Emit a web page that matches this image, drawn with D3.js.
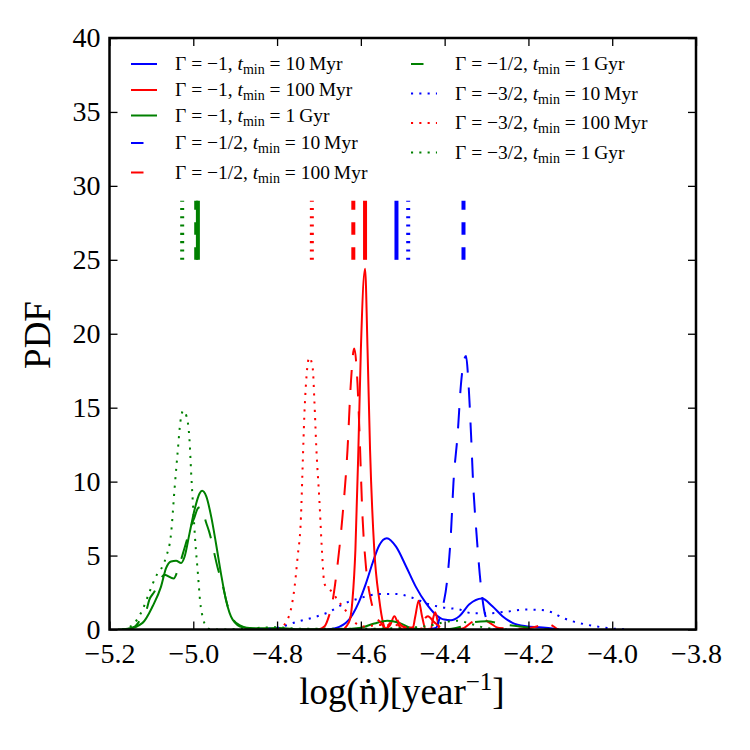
<!DOCTYPE html>
<html>
<head>
<meta charset="utf-8">
<title>PDF of log(ndot)</title>
<script src="https://cdn.jsdelivr.net/npm/d3@7"></script>
<style>
  body { margin: 0; background: #fff; }
  text { font-family: "Liberation Serif", "DejaVu Serif", serif; fill: #000; }
</style>
</head>
<body>
<script>

// ---- data ----
var xTicks = [-5.2, -5.0, -4.8, -4.6, -4.4, -4.2, -4.0, -3.8];
var yTicks = [0, 5, 10, 15, 20, 25, 30, 35, 40];

// Gamma = -1
var blueSolidX = [-4.68, -4.6515, -4.6355, -4.620, -4.604, -4.588, -4.572, -4.556, -4.538, -4.516, -4.492, -4.469, -4.445, -4.421, -4.401, -4.385, -4.365, -4.341, -4.311, -4.286, -4.262, -4.238, -4.206, -4.174, -4.143, -4.127];
var blueSolidY = [0, 0.18, 0.45, 1.0, 1.9, 3.1, 4.5, 5.7, 6.17, 5.6, 4.26, 2.9, 1.8, 1.0, 0.67, 0.63, 0.9, 1.7, 2.09, 1.57, 0.9, 0.45, 0.22, 0.15, 0.07, 0];

var redSolidX = [-4.66, -4.645, -4.635, -4.626, -4.620, -4.613, -4.606, -4.600, -4.590, -4.584, -4.578, -4.568, -4.556, -4.547, -4.540, -4.530, -4.520, -4.510, -4.500, -4.477, -4.470, -4.462, -4.454, -4.445, -4.433, -4.428, -4.4225, -4.417, -4.413, -4.38];
var redSolidY = [0, 0, 0.2, 0.67, 2.0, 5.4, 12.1, 18.9, 24.4, 18.9, 12.1, 5.4, 2.0, 0.45, 0.05, 0.3, 0.9, 0.3, 0, 0, 0.9, 1.95, 0.9, 0, 0, 0.7, 1.17, 0.6, 0, 0];

var greenSolidX = [-5.18, -5.160, -5.121, -5.097, -5.077, -5.065, -5.053, -5.041, -5.029, -5.021, -5.009, -4.997, -4.985, -4.979, -4.969, -4.957, -4.946, -4.934, -4.922, -4.906, -4.882, -4.850, -4.795, -4.747, -4.700, -4.651, -4.604, -4.568, -4.537, -4.508, -4.480, -4.449, -4.40];
var greenSolidY = [0, 0.02, 0.45, 1.57, 2.9, 4.15, 4.6, 4.65, 4.5, 4.9, 6.5, 8.1, 9.2, 9.38, 9.0, 7.6, 5.85, 3.8, 2.0, 0.67, 0.15, 0.08, 0.1, 0.02, 0, 0, 0.1, 0.4, 0.6, 0.45, 0.1, 0, 0];

// Gamma = -1/2
var blueDashX = [-4.44, -4.421, -4.413, -4.4065, -4.401, -4.393, -4.385, -4.379, -4.369, -4.361, -4.349, -4.343, -4.337, -4.332, -4.324, -4.314, -4.306, -4.294, -4.286, -4.27];
var blueDashY = [0, 0.1, 0.67, 1.46, 2.0, 3.6, 6.5, 9.9, 13.2, 16.6, 18.5, 16.6, 13.2, 9.9, 6.5, 3.1, 1.35, 0.34, 0, 0];

var redDashX = [-4.70, -4.687, -4.679, -4.667, -4.656, -4.644, -4.632, -4.624, -4.616, -4.608, -4.604, -4.596, -4.588, -4.576, -4.564, -4.552, -4.540, -4.530, -4.520, -4.510, -4.490, -4.460, -4.440, -4.425, -4.400, -4.360, -4.335, -4.315, -4.295, -4.270, -4.220, -4.180, -4.160, -4.145, -4.130];
var redDashY = [0, 0.2, 0.67, 2.0, 4.3, 7.6, 12.1, 16.6, 19.0, 16.6, 13.9, 7.6, 4.3, 2.0, 0.9, 0.45, 0.05, 0.5, 1.0, 0.5, 0.1, 0.3, 0.9, 0.5, 0.05, 0.05, 0.5, 0.8, 0.5, 0.1, 0.05, 0.2, 0.5, 0.3, 0];

var greenDashX = [-5.17, -5.14, -5.127, -5.112, -5.105, -5.093, -5.08, -5.069, -5.047, -5.035, -5.02, -5.005, -4.997, -4.989, -4.982, -4.969, -4.962, -4.942, -4.930, -4.918, -4.909, -4.89, -4.86, -4.80, -4.40, -4.36, -4.33, -4.30, -4.26, -4.22, -4.18, -4.15];
var greenDashY = [0, 0.2, 0.64, 1.3, 2.0, 2.55, 3.3, 3.7, 3.45, 4.2, 5.6, 7.0, 7.6, 8.2, 8.3, 7.2, 6.6, 4.2, 3.0, 1.6, 0.9, 0.3, 0.05, 0, 0, 0.2, 0.5, 0.55, 0.35, 0.2, 0.05, 0];

// Gamma = -3/2
var blueDotX = [-4.84, -4.818, -4.787, -4.755, -4.715, -4.675, -4.640, -4.604, -4.556, -4.516, -4.477, -4.437, -4.405, -4.365, -4.334, -4.294, -4.254, -4.206, -4.174, -4.143, -4.119, -4.095, -4.063, -4.024, -3.984, -3.96];
var blueDotY = [0, 0.05, 0.2, 0.5, 0.8, 1.2, 1.75, 2.1, 2.4, 2.4, 2.15, 1.7, 1.5, 1.35, 1.1, 1.1, 1.2, 1.35, 1.33, 1.15, 0.8, 0.56, 0.34, 0.15, 0.03, 0];

var redDotX = [-4.80, -4.787, -4.775, -4.767, -4.759, -4.751, -4.743, -4.739, -4.735, -4.731, -4.723, -4.715, -4.711, -4.706, -4.699, -4.693, -4.687, -4.679, -4.667, -4.656, -4.644, -4.632, -4.620, -4.608, -4.590, -4.560, -4.520, -4.480, -4.440, -4.400];
var redDotY = [0, 0.2, 0.67, 1.35, 2.7, 4.9, 7.6, 11.0, 14.4, 16.6, 18.4, 17.7, 15.5, 12.1, 8.75, 5.4, 3.1, 2.8, 2.5, 2.0, 1.57, 1.12, 0.67, 0.34, 0.2, 0.3, 0.3, 0.1, 0.05, 0];

var greenDotX = [-5.17, -5.157, -5.140, -5.121, -5.105, -5.089, -5.073, -5.065, -5.053, -5.045, -5.037, -5.031, -5.024, -5.016, -5.009, -5.005, -5.000, -4.995, -4.989, -4.984, -4.976, -4.969, -4.957, -4.90, -4.85, -4.80, -4.75, -4.60, -4.50, -4.43, -4.40, -4.37, -4.34, -4.30, -4.25];
var greenDotY = [0, 0.1, 0.45, 1.35, 2.5, 3.6, 4.3, 4.9, 6.5, 9.4, 12.1, 14.0, 14.8, 14.4, 12.8, 10.55, 8.1, 5.85, 3.8, 2.0, 0.67, 0.2, 0, 0.02, 0.1, 0.15, 0.05, 0.05, 0.1, 0.3, 0.5, 0.6, 0.4, 0.1, 0];

// vertical markers (same order as legend), drawn from PDF=25 to PDF=29
var markerX = [-4.515, -4.590, -4.989, -4.355, -4.618, -4.993, -4.487, -4.717, -5.0265];
var markerSpan = [25, 29];

// legend text pieces
var legendGamma = ["\u22121", "\u22121", "\u22121", "\u22121/2", "\u22121/2", "\u22121/2", "\u22123/2", "\u22123/2", "\u22123/2"];
var legendTmin = ["10", "100", "1", "10", "100", "1", "10", "100", "1"];
var legendUnit = ["Myr", "Myr", "Gyr", "Myr", "Myr", "Gyr", "Myr", "Myr", "Gyr"];

var curveX = [blueSolidX, redSolidX, greenSolidX, blueDashX, redDashX, greenDashX, blueDotX, redDotX, greenDotX];
var curveY = [blueSolidY, redSolidY, greenSolidY, blueDashY, redDashY, greenDashY, blueDotY, redDotY, greenDotY];

// ---- styles ----
var colors = ["#0000ff", "#ff0000", "#008000"];
var curveDash = [null, "20,15", "2.1,6.2"];
var markDash = [null, "12.5,12.5", "2.1,6.2"];
var legDash = [null, "12.5,14", "2.1,6.2"];

var width = 750, height = 750;
var plotL = 109.5, plotR = 696, plotT = 38, plotB = 629.5;

var svg = d3.select("body").append("svg")
    .attr("width", width)
    .attr("height", height);

var x = d3.scaleLinear().domain([-5.2, -3.8]).range([plotL, plotR]);
var y = d3.scaleLinear().domain([0, 40]).range([plotB, plotT]);

svg.append("clipPath").attr("id", "clip")
  .append("rect")
    .attr("x", plotL).attr("y", plotT)
    .attr("width", plotR - plotL).attr("height", plotB - plotT);

var line = d3.line()
    .x(function(d) { return x(d[0]); })
    .y(function(d) { return y(d[1]); })
    .curve(d3.curveMonotoneX);

var plot = svg.append("g").attr("clip-path", "url(#clip)");

// curves
curveX.forEach(function(xs, i) {
  var pts = xs.map(function(v, j) { return [v, curveY[i][j]]; });
  plot.append("path")
    .datum(pts)
    .attr("d", line)
    .attr("fill", "none")
    .attr("stroke", colors[i % 3])
    .attr("stroke-width", 2)
    .attr("stroke-dasharray", curveDash[Math.floor(i / 3)]);
});

// markers
markerX.forEach(function(v, i) {
  plot.append("line")
    .attr("x1", x(v)).attr("x2", x(v))
    .attr("y1", y(markerSpan[0])).attr("y2", y(markerSpan[1]))
    .attr("stroke", colors[i % 3])
    .attr("stroke-width", 4)
    .attr("stroke-dasharray", markDash[Math.floor(i / 3)]);
});

// axes (ticks inside, on all four sides)
var fmtX = d3.format(".1f");
var gx = svg.append("g")
    .attr("transform", "translate(0," + plotB + ")")
    .call(d3.axisBottom(x).tickValues(xTicks).tickSizeInner(-8).tickSizeOuter(0).tickPadding(14).tickFormat(fmtX));
var gy = svg.append("g")
    .attr("transform", "translate(" + plotL + ",0)")
    .call(d3.axisLeft(y).tickValues(yTicks).tickSizeInner(-8).tickSizeOuter(0).tickPadding(9).tickFormat(d3.format("d")));
var gt = svg.append("g")
    .attr("transform", "translate(0," + plotT + ")")
    .call(d3.axisTop(x).tickValues(xTicks).tickSizeInner(-8).tickSizeOuter(0).tickFormat(""));
var gr = svg.append("g")
    .attr("transform", "translate(" + plotR + ",0)")
    .call(d3.axisRight(y).tickValues(yTicks).tickSizeInner(-8).tickSizeOuter(0).tickFormat(""));

[gx, gy, gt, gr].forEach(function(g) {
  g.select(".domain").remove();
  g.selectAll(".tick line").attr("stroke", "#000").attr("stroke-width", 1.3);
  g.selectAll(".tick text")
    .style("font-family", '"Liberation Serif", "DejaVu Serif", serif')
    .attr("font-size", 28).attr("fill", "#000");
});

// frame
svg.append("rect")
  .attr("x", plotL).attr("y", plotT)
  .attr("width", plotR - plotL).attr("height", plotB - plotT)
  .attr("fill", "none").attr("stroke", "#000").attr("stroke-width", 2.5);

// axis labels
svg.append("text")
  .attr("x", 402).attr("y", 704)
  .attr("text-anchor", "middle")
  .attr("font-size", 37)
  .html('log(\u1E45)[year<tspan dy="-14" font-size="25">\u22121</tspan><tspan dy="14">]</tspan>');

svg.append("text")
  .attr("transform", "translate(50,335) rotate(-90)")
  .attr("text-anchor", "middle")
  .attr("font-size", 37)
  .text("PDF");

// legend (no frame, two columns)
var legRowY = [64, 90, 115.5, 143, 172.5, 64, 93.5, 123, 152.5];
var legColX = [131, 411];
var legTextX = [175, 455];

legendGamma.forEach(function(gm, i) {
  var col = i < 5 ? 0 : 1;
  var ry = legRowY[i];
  var g = svg.append("g");
  g.append("line")
    .attr("x1", legColX[col]).attr("x2", legColX[col] + 26)
    .attr("y1", ry).attr("y2", ry)
    .attr("stroke", colors[i % 3])
    .attr("stroke-width", 2)
    .attr("stroke-dasharray", legDash[Math.floor(i / 3)]);
  var t = g.append("text")
    .attr("x", legTextX[col]).attr("y", ry + 6)
    .attr("font-size", 19.5);
  t.append("tspan").text("\u0393 = " + gm + ", ");
  t.append("tspan").attr("font-style", "italic").text("t");
  t.append("tspan").attr("font-size", 14).attr("dy", 4).text("min");
  t.append("tspan").attr("dy", -4).text(" = " + legendTmin[i] + "\u2009" + legendUnit[i]);
});

</script>
</body>
</html>
